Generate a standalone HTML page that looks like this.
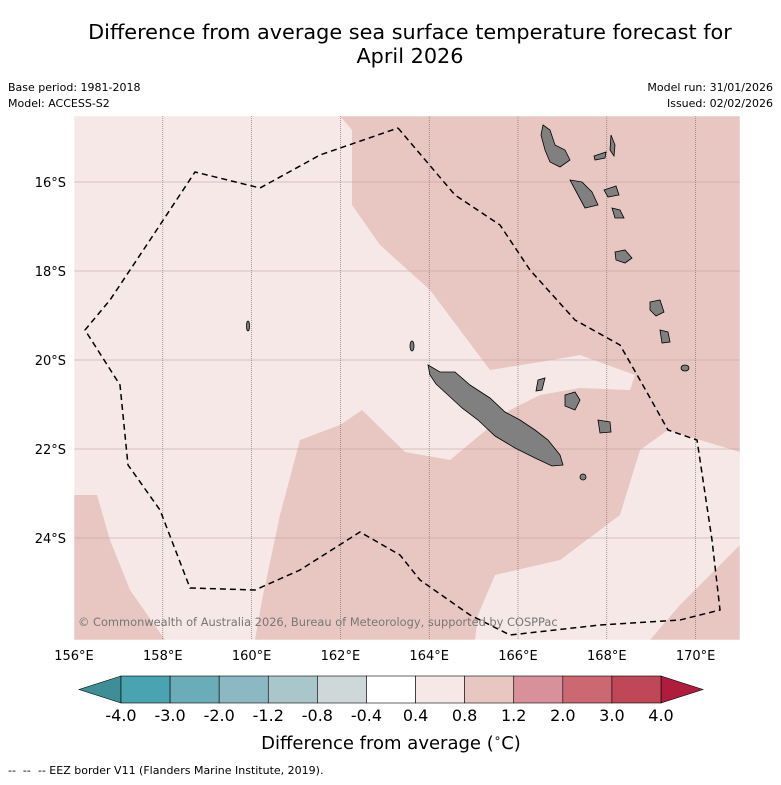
<!DOCTYPE html>
<html><head><meta charset="utf-8"><style>
body{margin:0;background:#fff;font-family:"DejaVu Sans",sans-serif}
</style></head><body>
<svg width="781" height="781" xmlns="http://www.w3.org/2000/svg" font-family="DejaVu Sans, sans-serif">
<text x="410" y="39" font-size="20.8" text-anchor="middle">Difference from average sea surface temperature forecast for</text>
<text x="410" y="63" font-size="20.8" text-anchor="middle">April 2026</text>
<text x="8" y="91" font-size="11">Base period: 1981-2018</text>
<text x="8" y="107" font-size="11">Model: ACCESS-S2</text>
<text x="773" y="91" font-size="11" text-anchor="end">Model run: 31/01/2026</text>
<text x="773" y="107" font-size="11" text-anchor="end">Issued: 02/02/2026</text>
<defs><clipPath id="mc"><rect x="74" y="116" width="666" height="524"/></clipPath></defs>
<g clip-path="url(#mc)">
<rect x="74" y="116" width="666" height="524" fill="#f5e8e6"/>
<polygon fill="#e8c7c2" points="340,116 740,116 740,452 700,440 668,430 640,450 620,515 560,560 495,575 478,615 475,640 255,640 262,600 280,515 300,440 340,425 362,410 405,452 450,460 510,410 540,395 490,370 460,330 430,290 380,245 352,205 352,130"/>
<polygon fill="#f5e8e6" points="490,370 540,362 580,355 635,375 630,390 580,388 540,395"/>
<polygon fill="#e8c7c2" points="74,495 97,495 110,540 130,590 165,640 74,640"/>
<polygon fill="#e8c7c2" points="650,640 680,605 740,545 740,640"/>
<g id="grid"></g>
<polyline fill="none" stroke="#000" stroke-width="1.5" stroke-dasharray="6,4" points="398,128 455,195 500,225 530,270 575,320 620,345 640,380 668,430 697,440 712,540 720,610 680,620 600,625 510,635 470,615 420,580 400,555 360,532 300,570 255,590 190,588 160,510 128,465 120,385 85,330 110,300 150,240 195,172 260,188 320,155 398,128"/>
<g fill="#808080" stroke="#000" stroke-width="0.8">
<polygon points="428,365 440,372 455,372 470,385 490,398 505,412 520,420 535,430 548,440 560,455 563,465 552,466 535,458 515,448 495,436 478,420 462,408 448,395 436,384 430,375"/>
<polygon points="565,395 575,392 580,400 575,410 565,406"/>
<polygon points="598,420 610,422 611,432 600,433"/>
<polygon points="538,380 545,378 542,390 536,391"/>
<ellipse cx="583" cy="477" rx="3" ry="3"/>
<polygon points="543,125 550,130 555,145 565,150 570,160 560,167 550,162 545,150 541,135"/>
<polygon points="570,180 582,182 592,192 598,205 585,208 578,195"/>
<polygon points="604,190 616,186 619,195 608,197"/>
<polygon points="594,156 606,152 605,158 595,160"/>
<polygon points="611,135 615,145 614,156 610,150"/>
<polygon points="612,208 620,210 624,218 615,218"/>
<polygon points="615,252 625,250 632,258 625,263 616,260"/>
<polygon points="650,302 660,300 664,312 656,316 650,310"/>
<polygon points="660,330 668,332 670,342 662,343"/>
<ellipse cx="685" cy="368" rx="4" ry="3"/>
<ellipse cx="248" cy="326" rx="1.5" ry="5"/>
<ellipse cx="412" cy="346" rx="2" ry="5"/>
</g>
</g>
<rect x="74" y="116" width="666" height="524" fill="none" stroke="#fff" stroke-width="0.5"/>
<text x="78" y="626" font-size="11.4" fill="#777">© Commonwealth of Australia 2026, Bureau of Meteorology, supported by COSPPac</text>
<g id="lonticks" font-size="13" text-anchor="middle"></g>
<g id="latticks" font-size="13" text-anchor="end"></g>
<g id="cbar"></g>
<text x="391" y="749" font-size="18" text-anchor="middle">Difference from average (<tspan font-size="12" dy="-7">∘</tspan><tspan dy="7">C)</tspan></text>
<text x="8" y="774" font-size="11">-- &#160;-- &#160;-- EEZ border V11 (Flanders Marine Institute, 2019).</text>
</svg>
<script>
const lonTicks=[156,158,160,162,164,166,168,170];
const latTicks=[16,18,20,22,24];
const cbLevels=["-4.0","-3.0","-2.0","-1.2","-0.8","-0.4","0.4","0.8","1.2","2.0","3.0","4.0"];
const cbColors=["#4aa3b0","#6aadb9","#8ab9c3","#a9c6ca","#cfd8d9","#ffffff","#f5e8e6","#e8c6c1","#d8909a","#cc6872","#bf4757"];
const NS="http://www.w3.org/2000/svg";
function lonX(l){return 74+(l-156)*44.4;}
function latY(l){return 182+(l-16)*44.5;}
const grid=document.getElementById('grid');
const lg=document.getElementById('lonticks'),tg=document.getElementById('latticks');
lonTicks.forEach(l=>{const x=lonX(l);
 if(l>156){const ln=document.createElementNS(NS,'line');
 
 
 ln.setAttribute('x1',x);ln.setAttribute('x2',x);ln.setAttribute('y1',116);ln.setAttribute('y2',640);
 ln.setAttribute('stroke','#666');ln.setAttribute('stroke-width','0.6');ln.setAttribute('stroke-dasharray','1,1');grid.appendChild(ln);}
 const t=document.createElementNS(NS,'text');
 
 
 t.setAttribute('x',x);t.setAttribute('y',660);t.textContent=l+'°E';lg.appendChild(t);});
latTicks.forEach(l=>{const y=latY(l);
 const ln=document.createElementNS(NS,'line');
 
 
 ln.setAttribute('x1',74);ln.setAttribute('x2',740);ln.setAttribute('y1',y);ln.setAttribute('y2',y);
 ln.setAttribute('stroke','#b99');ln.setAttribute('stroke-width','0.6');grid.appendChild(ln);
 const t=document.createElementNS(NS,'text');
 
 
 t.setAttribute('x',66);t.setAttribute('y',y+5);t.textContent=l+'°S';tg.appendChild(t);});
const cb=document.getElementById('cbar');
const x0=121,x1=661,y0=676,h=27,w=(x1-x0)/cbColors.length;
const lt=document.createElementNS(NS,'polygon');


lt.setAttribute('points',`${x0},${y0} ${x0},${y0+h} 79,${y0+h/2}`);lt.setAttribute('fill','#3e8e97');lt.setAttribute('stroke','#000');lt.setAttribute('stroke-width','0.6');cb.appendChild(lt);
const rt=document.createElementNS(NS,'polygon');


rt.setAttribute('points',`${x1},${y0} ${x1},${y0+h} 703,${y0+h/2}`);rt.setAttribute('fill','#b01c3c');rt.setAttribute('stroke','#000');rt.setAttribute('stroke-width','0.6');cb.appendChild(rt);
cbColors.forEach((c,i)=>{const r=document.createElementNS(NS,'rect');
 
 
 r.setAttribute('x',x0+i*w);r.setAttribute('y',y0);r.setAttribute('width',w);r.setAttribute('height',h);
 r.setAttribute('fill',c);r.setAttribute('stroke','#000');r.setAttribute('stroke-width','0.6');cb.appendChild(r);});
cbLevels.forEach((v,i)=>{const t=document.createElementNS(NS,'text');
 
 
 t.setAttribute('x',x0+i*w);t.setAttribute('y',721);t.setAttribute('font-size','16');t.setAttribute('text-anchor','middle');t.textContent=v;cb.appendChild(t);});
</script>
</body></html>
